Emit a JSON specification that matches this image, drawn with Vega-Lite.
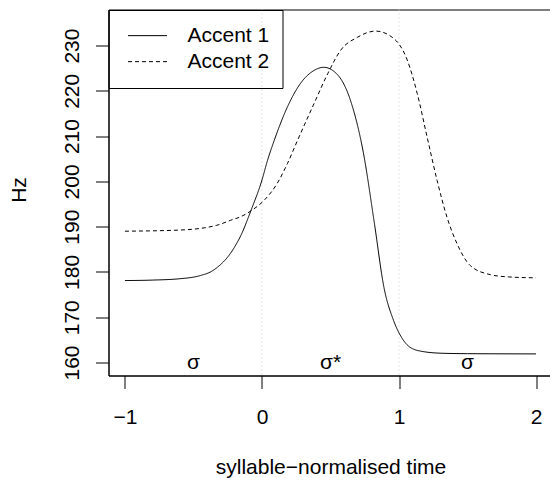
{
  "$schema": "https://vega.github.io/schema/vega-lite/v6.json",
  "width": 444,
  "height": 366,
  "autosize": {"type": "none"},
  "padding": {"left": 108.5, "top": 9.5, "right": 0, "bottom": 102.5},
  "background": "white",
  "config": {
    "font": "Liberation Sans",
    "view": {"stroke": "black", "strokeWidth": 1},
    "axis": {
      "domain": true,
      "domainColor": "black",
      "domainWidth": 1,
      "grid": false,
      "tickColor": "black",
      "tickSize": 13,
      "tickWidth": 1,
      "labelFont": "Liberation Sans",
      "labelFontSize": 21,
      "labelColor": "black",
      "titleFont": "Liberation Sans",
      "titleFontSize": 21,
      "titleFontWeight": "normal",
      "titleColor": "black"
    }
  },
  "datasets": {
    "curves": [
      {"x": -1.0, "hz": 178.1, "accent": "Accent 1"},
      {"x": -0.8, "hz": 178.2, "accent": "Accent 1"},
      {"x": -0.6, "hz": 178.5, "accent": "Accent 1"},
      {"x": -0.45, "hz": 179.2, "accent": "Accent 1"},
      {"x": -0.37, "hz": 180.1, "accent": "Accent 1"},
      {"x": -0.3, "hz": 181.7, "accent": "Accent 1"},
      {"x": -0.25, "hz": 183.3, "accent": "Accent 1"},
      {"x": -0.2, "hz": 185.5, "accent": "Accent 1"},
      {"x": -0.155, "hz": 188.0, "accent": "Accent 1"},
      {"x": -0.08, "hz": 193.6, "accent": "Accent 1"},
      {"x": 0.0, "hz": 200.3, "accent": "Accent 1"},
      {"x": 0.04, "hz": 204.6, "accent": "Accent 1"},
      {"x": 0.09, "hz": 209.1, "accent": "Accent 1"},
      {"x": 0.185, "hz": 216.4, "accent": "Accent 1"},
      {"x": 0.28, "hz": 221.6, "accent": "Accent 1"},
      {"x": 0.38, "hz": 224.5, "accent": "Accent 1"},
      {"x": 0.45, "hz": 225.2, "accent": "Accent 1"},
      {"x": 0.55, "hz": 223.6, "accent": "Accent 1"},
      {"x": 0.65, "hz": 217.5, "accent": "Accent 1"},
      {"x": 0.74, "hz": 206.3, "accent": "Accent 1"},
      {"x": 0.82, "hz": 190.8, "accent": "Accent 1"},
      {"x": 0.89, "hz": 176.6, "accent": "Accent 1"},
      {"x": 0.96, "hz": 169.3, "accent": "Accent 1"},
      {"x": 1.03, "hz": 165.0, "accent": "Accent 1"},
      {"x": 1.13, "hz": 162.7, "accent": "Accent 1"},
      {"x": 1.3, "hz": 162.06, "accent": "Accent 1"},
      {"x": 1.5, "hz": 161.95, "accent": "Accent 1"},
      {"x": 2.0, "hz": 161.9, "accent": "Accent 1"},
      {"x": -1.0, "hz": 189.0, "accent": "Accent 2"},
      {"x": -0.6, "hz": 189.25, "accent": "Accent 2"},
      {"x": -0.33, "hz": 190.3, "accent": "Accent 2"},
      {"x": -0.23, "hz": 191.4, "accent": "Accent 2"},
      {"x": -0.155, "hz": 192.2, "accent": "Accent 2"},
      {"x": -0.08, "hz": 193.5, "accent": "Accent 2"},
      {"x": 0.015, "hz": 195.8, "accent": "Accent 2"},
      {"x": 0.11, "hz": 199.5, "accent": "Accent 2"},
      {"x": 0.185, "hz": 203.9, "accent": "Accent 2"},
      {"x": 0.26, "hz": 209.1, "accent": "Accent 2"},
      {"x": 0.38, "hz": 217.2, "accent": "Accent 2"},
      {"x": 0.48, "hz": 223.8, "accent": "Accent 2"},
      {"x": 0.575, "hz": 229.0, "accent": "Accent 2"},
      {"x": 0.695, "hz": 231.8, "accent": "Accent 2"},
      {"x": 0.83, "hz": 233.2, "accent": "Accent 2"},
      {"x": 0.96, "hz": 231.6, "accent": "Accent 2"},
      {"x": 1.06, "hz": 226.8, "accent": "Accent 2"},
      {"x": 1.133, "hz": 219.4, "accent": "Accent 2"},
      {"x": 1.205, "hz": 209.8, "accent": "Accent 2"},
      {"x": 1.278, "hz": 200.2, "accent": "Accent 2"},
      {"x": 1.35, "hz": 192.1, "accent": "Accent 2"},
      {"x": 1.424, "hz": 186.2, "accent": "Accent 2"},
      {"x": 1.52, "hz": 181.4, "accent": "Accent 2"},
      {"x": 1.667, "hz": 179.4, "accent": "Accent 2"},
      {"x": 1.8, "hz": 178.9, "accent": "Accent 2"},
      {"x": 2.0, "hz": 178.7, "accent": "Accent 2"}
    ],
    "grid": [{"x": 0}, {"x": 1}],
    "labels": [
      {"x": -0.5, "hz": 160, "label": "σ"},
      {"x": 0.5, "hz": 160, "label": "σ*"},
      {"x": 1.5, "hz": 160, "label": "σ"}
    ]
  },
  "layer": [
    {
      "data": {"name": "grid"},
      "mark": {"type": "rule", "color": "#cccccc", "strokeWidth": 1, "strokeDash": [1, 3]},
      "encoding": {
        "x": {"field": "x", "type": "quantitative", "scale": {"domain": [-1.12, 2.12], "nice": false, "zero": false}}
      }
    },
    {
      "data": {"name": "curves"},
      "mark": {"type": "line", "interpolate": "monotone", "color": "black", "strokeWidth": 1},
      "encoding": {
        "x": {
          "field": "x", "type": "quantitative",
          "scale": {"domain": [-1.12, 2.12], "nice": false, "zero": false},
          "axis": {
            "values": [-1, 0, 1, 2],
            "labelExpr": "datum.value < 0 ? '−' + abs(datum.value) : '' + datum.value",
            "title": "syllable−normalised time",
            "labelBaseline": "alphabetic",
            "labelPadding": 35,
            "labelOverlap": false,
            "labelBound": false,
            "titleBaseline": "alphabetic",
            "titleY": 98
          }
        },
        "y": {
          "field": "hz", "type": "quantitative",
          "scale": {"domain": [157.13, 237.96], "nice": false, "zero": false},
          "axis": {
            "values": [160, 170, 180, 190, 200, 210, 220, 230],
            "title": "Hz",
            "labelAngle": -90,
            "labelAlign": "center",
            "labelBaseline": "alphabetic",
            "labelPadding": 17,
            "labelOverlap": false,
            "titleAngle": -90,
            "titleBaseline": "alphabetic",
            "titleX": -83,
            "titleY": 180
          }
        },
        "strokeDash": {
          "field": "accent", "type": "nominal",
          "scale": {"domain": ["Accent 1", "Accent 2"], "range": [[1, 0], [4, 3]]},
          "legend": {
            "orient": "none",
            "legendX": 0,
            "legendY": 0.5,
            "title": null,
            "padding": 13,
            "strokeColor": "black",
            "fillColor": "transparent",
            "cornerRadius": 0,
            "symbolType": "stroke",
            "symbolSize": 1521,
            "symbolStrokeWidth": 1,
            "symbolStrokeColor": "black",
            "labelFont": "Liberation Sans",
            "labelFontSize": 21,
            "labelColor": "black",
            "clipHeight": 25.3,
            "rowPadding": 0,
            "symbolOffset": 6,
            "labelOffset": 20
          }
        }
      }
    },
    {
      "data": {"name": "labels"},
      "mark": {"type": "text", "fontSize": 21, "font": "Liberation Sans", "color": "black", "baseline": "alphabetic", "align": "center", "dy": 6},
      "encoding": {
        "x": {"field": "x", "type": "quantitative"},
        "y": {"field": "hz", "type": "quantitative"},
        "text": {"field": "label"}
      }
    }
  ]
}
